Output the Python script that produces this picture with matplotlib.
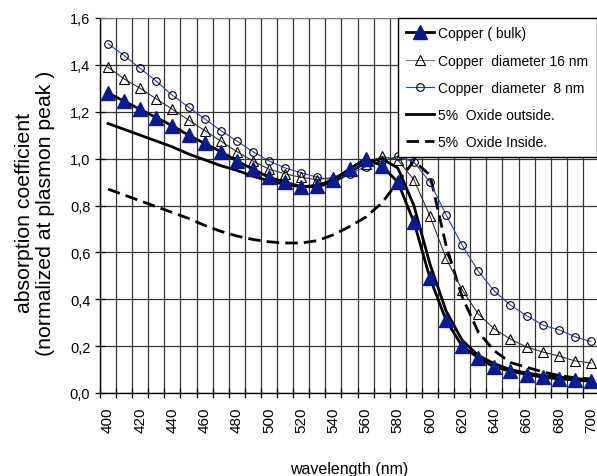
import matplotlib
matplotlib.use("Agg")
import matplotlib.pyplot as plt
import numpy as np
from matplotlib.ticker import FixedLocator

# ---------------- data ----------------
wavelengths = list(range(400, 701, 10))
tick_labels = [str(w) for w in range(400, 701, 20)]

bulk = [1.28, 1.245, 1.21, 1.175, 1.14, 1.10, 1.065, 1.03, 0.99, 0.955,
        0.92, 0.90, 0.88, 0.885, 0.91, 0.955, 1.00, 0.97, 0.90, 0.73,
        0.49, 0.31, 0.20, 0.15, 0.11, 0.094, 0.078, 0.068, 0.06, 0.055, 0.05]

d16 = [1.39, 1.34, 1.30, 1.255, 1.21, 1.165, 1.12, 1.075, 1.03, 0.99,
       0.955, 0.935, 0.92, 0.91, 0.92, 0.95, 0.975, 1.01, 0.995, 0.91,
       0.755, 0.575, 0.44, 0.337, 0.273, 0.23, 0.196, 0.175, 0.158, 0.137, 0.128]

d8 = [1.49, 1.44, 1.385, 1.33, 1.27, 1.22, 1.17, 1.12, 1.075, 1.03,
      0.99, 0.96, 0.94, 0.92, 0.91, 0.935, 0.965, 0.99, 1.01, 0.985,
      0.90, 0.76, 0.63, 0.52, 0.435, 0.375, 0.33, 0.29, 0.27, 0.24, 0.22]

oxide_out = [1.15, 1.125, 1.10, 1.075, 1.05, 1.02, 0.995, 0.97, 0.95, 0.925,
             0.905, 0.89, 0.88, 0.88, 0.90, 0.94, 0.985, 1.00, 0.96, 0.80,
             0.55, 0.35, 0.225, 0.16, 0.125, 0.10, 0.085, 0.075, 0.068, 0.062, 0.056]

oxide_in = [0.87, 0.845, 0.82, 0.795, 0.77, 0.745, 0.715, 0.69, 0.67, 0.655,
            0.645, 0.64, 0.64, 0.65, 0.675, 0.71, 0.75, 0.81, 0.90, 0.99,
            0.93, 0.63, 0.41, 0.26, 0.18, 0.13, 0.11, 0.09, 0.075, 0.065, 0.06]

labels = ["Copper ( bulk)", "Copper  diameter 16 nm", "Copper  diameter  8 nm",
          "5%  Oxide outside.", "5%  Oxide Inside."]

# ---------------- figure ----------------
W, H = 597, 477
FONT = "Liberation Sans"
fig = plt.figure(figsize=(W / 100, H / 100), dpi=100)
ax = fig.add_axes([100 / W, 83 / H, 499 / W, 375 / H])

x = np.arange(len(wavelengths))
navy = "#0A1A8F"
blue = "#2244C8"

ax.plot(x, oxide_in, color="black", lw=2.0, dashes=(4.5, 2.2), label=labels[4], zorder=3)
ax.plot(x, oxide_out, color="black", lw=2.0, label=labels[3], zorder=3)
ax.plot(x, d8, color=blue, lw=0.8, marker="o", ms=5.5, mfc="none", mec="black",
        mew=0.8, label=labels[2], zorder=4)
ax.plot(x, d16, color="#333333", lw=0.8, marker="^", ms=6.5, mfc="none", mec="black",
        mew=0.8, label=labels[1], zorder=4)
ax.plot(x, bulk, color="black", lw=2.0, marker="^", ms=9.5, mfc=navy, mec=navy,
        label=labels[0], zorder=5)

ax.set_xlim(-0.5, len(wavelengths) - 0.5)
ax.set_ylim(0, 1.6)

# x: labels at category centres every 20 nm, ticks/grid at category boundaries
ax.xaxis.set_major_locator(FixedLocator(np.arange(0, len(wavelengths), 2)))
ax.set_xticklabels(tick_labels, rotation=90, fontsize=11, family=FONT)
ax.xaxis.set_minor_locator(FixedLocator(np.arange(-0.5, len(wavelengths), 1.0)))
ax.tick_params(axis="x", which="major", length=0, pad=10)
ax.tick_params(axis="x", which="minor", direction="inout", length=7, width=0.9, color="black")
ax.grid(axis="x", which="minor", color="#333333", lw=0.9)

yt = np.round(np.arange(0, 1.61, 0.2), 1)
ax.set_yticks(yt)
ax.set_yticklabels([f"{v:.1f}".replace(".", ",") for v in yt], fontsize=10.5, family=FONT)
ax.tick_params(axis="y", direction="inout", length=7, width=0.9, pad=3.5)
ax.grid(axis="y", which="major", color="#333333", lw=0.9)
ax.set_axisbelow(True)

for s in ["left", "bottom"]:
    ax.spines[s].set_color("black")
    ax.spines[s].set_linewidth(1.0)
ax.spines["top"].set_color("#777777")
ax.spines["right"].set_visible(False)

# axis titles
fig.text(25 / W, 1 - 213 / H, "absorption coefficient", rotation=90,
         ha="center", va="center", fontsize=15.3, family=FONT)
fig.text(46 / W, 1 - 213 / H, "(normalized at plasmon peak )", rotation=90,
         ha="center", va="center", fontsize=15.3, family=FONT)
fig.text(349 / W, (H - 474) / H, "wavelength (nm)", ha="center", va="baseline",
         fontsize=11.5, family=FONT)

# legend
handles, labs = ax.get_legend_handles_labels()
order = [labs.index(l) for l in labels]
leg = fig.legend([handles[i] for i in order], [labs[i] for i in order],
                 loc="upper left", bbox_to_anchor=(398 / W, 1 - 19 / H),
                 bbox_transform=fig.transFigure, borderaxespad=0,
                 prop={"family": FONT, "size": 10},
                 frameon=True, fancybox=False, framealpha=1, edgecolor="black",
                 handlelength=2.0, handletextpad=0.3, labelspacing=0.95,
                 borderpad=0.6, numpoints=1)
leg.get_frame().set_linewidth(1.0)
leg.legend_handles[1].set_color("#777777")
leg.legend_handles[1].set_markeredgecolor("black")

fig.savefig("out.png", dpi=100)
